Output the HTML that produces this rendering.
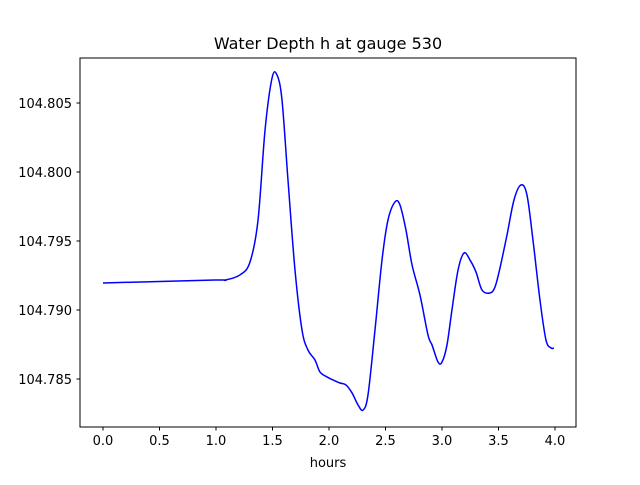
<!DOCTYPE html>
<html><head><meta charset="utf-8"><style>
body{margin:0;background:#fff}
svg text{font-family:"DejaVu Sans","Liberation Sans",sans-serif;font-size:13px;fill:#000}
</style></head><body>
<svg id="chart" width="640" height="480" xmlns="http://www.w3.org/2000/svg">
<rect width="640" height="480" fill="#fff"/>
<text x="328" y="49" text-anchor="middle" style="font-size:16px">Water Depth h at gauge 530</text>
<text x="328" y="467" text-anchor="middle">hours</text>
<g id="ticks"></g>
<path id="line" fill="none" stroke="#0000ff" stroke-width="1.5"/>
<rect x="80" y="58" width="496" height="369" fill="none" stroke="#000" stroke-width="1"/>
</svg>
<script>
const hours=[0,0.991,1.08,1.212,1.301,1.372,1.434,1.496,1.54,1.584,1.637,1.699,1.761,1.814,1.876,1.92,1.982,2.035,2.097,2.15,2.204,2.257,2.301,2.345,2.407,2.469,2.522,2.584,2.628,2.681,2.735,2.805,2.876,2.912,2.965,3.0,3.044,3.088,3.142,3.195,3.248,3.301,3.354,3.425,3.469,3.513,3.575,3.637,3.699,3.752,3.805,3.867,3.92,3.965,3.991];
const depth=[104.79196,104.79217,104.79217,104.79254,104.79348,104.79652,104.80304,104.80681,104.80703,104.80522,104.79942,104.7929,104.78855,104.7871,104.78638,104.78551,104.78515,104.78493,104.78471,104.78457,104.78399,104.78312,104.78275,104.78384,104.78855,104.79362,104.79652,104.79783,104.79761,104.7958,104.79326,104.79109,104.78819,104.78746,104.78623,104.78623,104.78746,104.79,104.7929,104.79413,104.79362,104.79275,104.79145,104.79123,104.79167,104.79304,104.79543,104.79797,104.79906,104.79833,104.79507,104.79072,104.78783,104.78725,104.78725];
const xTicks=[0,0.5,1,1.5,2,2.5,3,3.5,4];
const xTickLabels=["0.0","0.5","1.0","1.5","2.0","2.5","3.0","3.5","4.0"];
const yTicks=[104.785,104.79,104.795,104.8,104.805];
const yTickLabels=["104.785","104.790","104.795","104.800","104.805"];
const xs=h=>103+h*113;
const ys=v=>379-(v-104.785)/0.005*69;
const NS="http://www.w3.org/2000/svg";
const g=document.getElementById('ticks');
xTicks.forEach((t,i)=>{
  const l=document.createElementNS(NS,'line');
  l.setAttribute('x1',xs(t));l.setAttribute('x2',xs(t));l.setAttribute('y1',427);l.setAttribute('y2',430.5);l.setAttribute('stroke','#000');
  
  
  g.appendChild(l);
  const tx=document.createElementNS(NS,'text');
  tx.setAttribute('x',xs(t));tx.setAttribute('y',445);tx.setAttribute('text-anchor','middle');tx.textContent=xTickLabels[i];
  
  
  g.appendChild(tx);
});
yTicks.forEach((t,i)=>{
  const l=document.createElementNS(NS,'line');
  l.setAttribute('x1',76.5);l.setAttribute('x2',80);l.setAttribute('y1',ys(t));l.setAttribute('y2',ys(t));l.setAttribute('stroke','#000');
  
  
  g.appendChild(l);
  const tx=document.createElementNS(NS,'text');
  tx.setAttribute('x',72);tx.setAttribute('y',ys(t)+5);tx.setAttribute('text-anchor','end');tx.textContent=yTickLabels[i];
  
  
  g.appendChild(tx);
});
const pts=hours.map((h,i)=>[xs(h),ys(depth[i])]);
let d='M'+pts[0][0]+','+pts[0][1];
for(let i=0;i<pts.length-1;i++){
  const p0=pts[Math.max(0,i-1)],p1=pts[i],p2=pts[i+1],p3=pts[Math.min(pts.length-1,i+2)];
  const c1=[p1[0]+(p2[0]-p0[0])/6,p1[1]+(p2[1]-p0[1])/6];
  const c2=[p2[0]-(p3[0]-p1[0])/6,p2[1]-(p3[1]-p1[1])/6];
  d+=` C${c1[0]},${c1[1]} ${c2[0]},${c2[1]} ${p2[0]},${p2[1]}`;
}
document.getElementById('line').setAttribute('d',d);
</script>
</body></html>
